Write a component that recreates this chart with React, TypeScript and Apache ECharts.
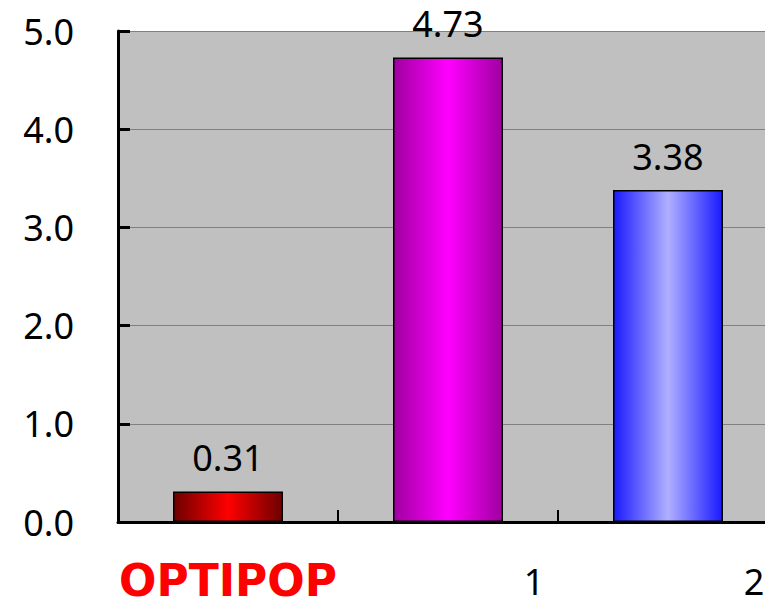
import React, { useEffect, useRef } from "react";
import * as echarts from "echarts";

const categories = ["OPTIPOP", "1", "2"];
const values = [0.31, 4.73, 3.38];
const yTicks = { min: 0, max: 5, interval: 1 };

const barGradients = [
  ["#6e0000", "#ff0000", "#6e0000"],
  ["#a000a0", "#ff00ff", "#a000a0"],
  ["#1a1aff", "#b0b0ff", "#1a1aff"],
];
const gradientStops = [0, 0.5, 1];

const numFont = "Noto Sans";

export default function App() {
  const ref = useRef<HTMLDivElement>(null);
  useEffect(() => {
    if (!ref.current) return;
    const chart = echarts.init(ref.current, null, { renderer: "svg" });
    const data = values.map((v, i) => ({
      value: v,
      itemStyle: {
        color: new echarts.graphic.LinearGradient(
          0, 0, 1, 0,
          barGradients[i].map((c, k) => ({ offset: gradientStops[k], color: c }))
        ),
      },
    }));
    chart.setOption({
      animation: false,
      backgroundColor: "#ffffff",
      grid: {
        left: 118,
        top: 31,
        width: 660,
        height: 491,
        containLabel: false,
        outerBoundsMode: "none",
        show: true,
        backgroundColor: "#c0c0c0",
        borderWidth: 0,
      },
      xAxis: {
        type: "category",
        data: categories,
        axisLine: { show: true, lineStyle: { color: "#000", width: 3 } },
        axisTick: { show: true, inside: true, length: 12, lineStyle: { color: "#000", width: 2 } },
        axisLabel: {
          margin: 36,
          interval: 0,
          hideOverlap: false,
          formatter: (v: string, i: number) => (i === 0 ? `{a|${v}}` : `{b|${v}}`),
          rich: {
            a: {
              fontFamily: "DejaVu Sans",
              fontWeight: "bold",
              fontSize: 44,
              lineHeight: 44,
              color: "#ff0000",
            },
            b: {
              fontFamily: numFont,
              fontSize: 36,
              lineHeight: 44,
              color: "#000",
              padding: [3, 0, 0, 172],
            },
          },
        },
        splitLine: { show: false },
      },
      yAxis: {
        type: "value",
        min: yTicks.min,
        max: yTicks.max,
        interval: yTicks.interval,
        axisLine: { show: true, lineStyle: { color: "#000", width: 3 } },
        axisTick: { show: true, inside: true, length: 12, lineStyle: { color: "#000", width: 3 } },
        axisLabel: {
          margin: 44,
          fontFamily: numFont,
          fontSize: 36,
          color: "#000",
          formatter: (v: number) => v.toFixed(1),
        },
        splitLine: { show: true, lineStyle: { color: "#808080", width: 1 } },
      },
      series: [
        {
          type: "bar",
          data,
          barWidth: "50%",
          itemStyle: { borderColor: "#000", borderWidth: 1.5 },
          label: {
            show: true,
            position: "top",
            distance: 16,
            fontFamily: numFont,
            fontSize: 36,
            color: "#000",
            formatter: (p: any) => Number(p.value).toFixed(2),
          },
        },
      ],
    });
    return () => chart.dispose();
  }, []);
  return <div ref={ref} style={{ width: 765, height: 605, position: "absolute", left: 0, top: 0 }} />;
}
